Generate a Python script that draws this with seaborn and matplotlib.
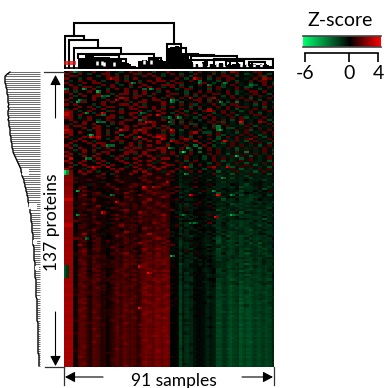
import matplotlib
matplotlib.use("Agg")
import matplotlib.pyplot as plt
from matplotlib.colors import LinearSegmentedColormap
from matplotlib.patches import Rectangle
import numpy as np
import pandas as pd
import seaborn as sns

# sample levels in the lower part of the heatmap
col_level = [2.8, 2.9, 2.8, 2.6, 0.3, 0.5, 1.6, 1.9, 1.8, 1.5,
             1.0, 0.7, 1.6, 1.7, 1.5, 1.2, 0.6, 0.9, 0.3, 0.4,
             0.8, 1.1, 1.5, 1.7, 1.2, 1.6, 1.9, 1.6, 1.2, 1.7,
             1.5, 1.1, 0.9, 1.5, 2.0, 2.3, 2.1, 2.0, 1.8, 2.2,
             2.4, 2.2, 1.9, 2.3, 2.4, 2.1, 0.1, 0.0, -0.1, -0.2,
             -1.9, -0.7, -1.2, -1.4, -1.0, -1.1, -0.4, -0.2, -0.1, -0.2,
             -0.3, -0.8, -1.0, -0.6, -0.7, -0.9, -1.9, -2.0, -1.6, -1.3,
             -1.5, -2.0, -2.2, -1.8, -1.7, -1.5, -2.3, -2.0, -1.8, -2.1,
             -2.2, -1.9, -1.6, -1.8, -2.0, -1.7, -1.5, -1.9, -1.8, -1.6, -1.0]

# strength of that pattern from the top row to the bottom row
row_gain = [.08, .1, .08, .12, .1, .08, .1, .12, .1, .08, .12, .1, .14, .1, .12, .14, .12, .1, .14, .12,
            .14, .16, .12, .14, .16, .18, .14, .16, .2, .18, .16, .2, .22, .18, .2, .24, .22, .2, .24, .26,
            .22, .26, .28, .24, .28, .3, .32, .28, .3, .34, .36, .32, .36, .4, .38, .36, .42, .4, .38, .44,
            .42, .46, .44, .42, .48, .46, .5, .48, .46, .52, .5, .54, .52, .5, .56, .54, .58, .56, .6, .58,
            .62, .6, .64, .62, .66, .68, .62, .7, .66, .74, .68, .72, .78, .68, .76, .72, .8, .74, .7, .8,
            .84, .74, .8, .86, .74, .8, .84, .88, .76, .82, .88, .9, .78, .84, .9, .8, .9, .86, .8, .92,
            .84, .88, .94, .82, .88, .92, .86, .82, .92, .86, .9, .84, .92, .82, .88, .92, .86]

# red strip of the first four samples, from the row where it becomes solid
strip_first_row = 46
strip_level = [1.9, 2.0, 2.1, 2.0, 2.2, 2.1, 2.0, 2.2, 2.3, 2.1, 2.2, 2.3, 2.4, 3.0,
               2.2, 2.3, 2.2, 2.4, 2.3, 2.2, 2.3, 2.4, 2.3, 2.2, 2.6, 2.9, 2.4, 2.3, 2.4, 2.3, 2.4, 2.3, 2.4, 2.5,
               2.3, 2.4, 2.5, 2.4, 2.5, 2.4, 2.5, 2.4, 2.5, 2.4, 2.5, 2.4, 2.5, 2.4, 2.5, 2.4, 2.5, 2.4, 2.5, 2.6,
               2.5, 2.4, 2.5, 2.6, 2.5, 2.4, 2.5, 2.6, 2.5, 2.6, 2.5, 2.6, 2.5, 2.4, 2.5, 2.6, 2.5, 2.6, 2.5, 2.6,
               2.5, 2.6, 2.5, 2.4, 2.5, 2.6, 2.5, 2.6, 2.5, 2.6, 2.5, 2.6, 2.5, 2.6, 2.5, 2.4, 2.5]

# cell marks of the upper rows, two samples per character:
# R strong red, r red, . nothing, k darker, g green, G strong green
texture_rows = [
    ".r.gk.r..r.kg.r.r..g.kr..k.g.r.kr.g.Rr.k.rr..k",
    "r..r.gk.rr.g.k.rg.r..g.r.g..rk..g.r.kr.gk.r.g.",
    ".rr.k..g.r.r.r..kr.r.g.k.r.g.k.r..rr.g..k.rg..",
    "rk.g.r.k.rRr.g.r.k..r.k.r.g..r.g.r.rr..k.r.Rr.",
    ".g.r..r.g.kr.r..g.r.rr.r.k.r.G.k.g.r.g..r.rr.k",
    "r.k.r.rr.k.g..r.rk.r..g.rr..k.r.g.r..rk.g..r.g",
    ".r.g..k.r.r.g.r..r.k.rrr.g.k.r..k.g.r.k.Gg.r.r",
    "k.r.rr.g.kr.k.g.r.r..g.r.r.g.k.r.rg..r.gg.k.r.",
    "g.r.k.r..g.r.r.k.G..r.k.g.rr.k.g.r.k.r.r..g.k.",
    "r.gk.r.g.r.k.r.r.rk.g.r.k.g..r.r.k.r.gk.rr.r.k",
    ".r.r.k.r.kg.rr.g.r.r.k.rr.g.r.k.rr.r.g.k.r..g.",
    "k.g.r.rr.G.r.k.rr.g.k.r.k.r.g.r.k.g.r.k.r.rk.r",
    ".r..k.r.g.k.Rr.r.k.r.g.r.r.k.r.rR.k.r.r.g.k.r.",
    "r.k.g.rk.r.g.r.k.r.rr.k.g.k.rr.g.r.k.r.rr.g.k.",
    ".g.rr.k.r.r.k.g.rr.k.r.r.g.k.r.r.k.g.G.k.r.r.g",
    "r.r.k.g.r.k.rr.r.g.k.r.k.r.rg.k.r.g.rr.k.g.r.k",
    ".k.r.r.g.rr.k.r.rr.r.g.r.k.g.r.k.r.r.rrr.k.g.r",
    "g.r.k.r.r.k.g.rr.k.r.r.k.r.r.g.R.k.r.g.k.r.r.k",
    "rr.g.r.k.gr.r.k.r.g.r.k.r.g.k.rRr.r.k.g.r.k.r.",
    "Rrk.r.g.r.k.r.rr.g.k.r.g.rk.r.k.g.r.r.k.r.g.k.",
    "Rr.r.k.rG.r.k.r.g.r.r.k.r.rk.g.r.k.r.g.k.rr.k.",
    "rr.g.r.k.rr.gk.r.r.k.gg.r.k.g.r.r.k.r.rg.k.r.k",
    ".r.k.r.g.r.k.rr.Gg.k.r.g.r.k.g.kr.r.g.r.k.r.g.",
    "k.r.r.k.G.r.r.k.r.Rr.k.r.g.r.k.r.rg.k.r.k.Rr.g",
    ".g.kr.r.k.g.r.k.rr.r.k.g.r.gg.k.r.r.k.g.r.k.r.",
    "r.rr.k.r.g.k.r.r.k.r.rg.k.r.r.k.gG.r.k.r.g.k.r",
    "r.k.r.rr.k.g.r.k.rr.g.r.k.r.k.g.rG.gg.k.r.r.k.",
    "Rr.k.g.r.r.k.r.rRr.k.r.r.g.k.r.k.G.k.r.rg.k.r.",
    "rr.r.k.r.g.r.k.r.r.k.g.r.k.rR.gg.r.k.g.r.k.r.r",
    ".r.k.g.r.r.kG.r.k.r.rr.g.k.r.k.r.rg.k.r.r.gk.r",
    "r.k.r.rR.k.r.r.g.k.rRr.k.r.g.r.k.g.r.r.k.r.g.k",
    ".g.r.k.r.g.r.k.r.r.k.r.g.rRr.k.r.g.k.r.rR.k.r.",
    "k.r.r.g.k.r.r.k.g.r.r.k.r.r.R.k.g.r.kr.g.r.k.r",
    ".r.k.r.rr.k.g.r.r.k.r.g.rr.k.r.r.kg.r.k.r.r.g.",
    "r.g.k.r.r.G.k.r.g.r.k.r.k.r.G.r.g.k.r.r.k.g.r.",
    ".r.r.k.g.r.k.r.rr.k.rr.g.r.k.G.r.k.r.g.k.r.r.k",
    "k.g.r.r.k.r.g.r.k.rr.r.k.r.g.k.r.r.k.g.r.k.r.g",
    "r.k.r.g.rr.k.rrr.r.k.r.r.g.r.G.k.r.k.r.G.k.r.r",
    ".r.g.k.r.r.k.r.g.r.k.g.r.k.r.k.r.r.g.k.r.r.k.g",
    "r.k.r.r.k.g.r.k.r.r.g.k.r.r.k.g.r.k.r.r.g.k.r.",
    ".R.k.G.r.k.r.g.r.k.r.rr.k.r.k.g.r.r.k.g.r.k.r.",
    "r.k.r.g.r.k.r.k.r.r.g.k.r.g.r.k.r.g.k.r.r.k.g.",
    ".r.r.k.r.g.k.r.r.k.g.r.k.r.r.k.g.r.k.r.g.k.r.r",
    "k.g.r.k.r.r.k.g.r.r.k.rr.k.g.r.k.r.g.k.r.g.k.r",
    ".r.k.r.r.R.k.g.r.k.r.r.k.r.g.k.rR.k.g.r.r.k.g.",
    "r.k.g.r.k.r.r.k.r.g.r.k.r.r.k.g.r.k.r.g.k.r.r.",
    ".k.r.r.g.k.r.k.r.r.k.g.r.k.r.r.k.g.k.r.k.g.r.k",
    "k.k.r.k.r.g.k.r.k.r.k.r.k.g.k.k.r.k.g.k.r.k.g.",
    ".k.g.k.r.k.r.k.k.r.k.k.r.k.k.g.k.g.k.k.g.k.k.r",
    "k.r.k.k.r.k.k.g.r.k.r.k.k.r.r.k.k.k.g.k.g.k.k.",
    ".k.k.r.k.k.r.k.k.r.k.k.r.k.k.k.g.k.k.k.r.k.g.k",
    "k.r.k.k.g.k.r.k.k.r.k.r.k.k.r.k.k.g.k.k.k.r.k.",
    ".k.k.g.k.r.k.k.r.k.k.r.k.k.r.k.r.k.k.k.g.k.k.g",
    "k.k.r.k.k.r.k.r.k.k.r.k.R.k.r.k.k.g.k.g.k.r.k.",
    ".k.r.k.k.k.r.k.k.r.k.k.r.k.k.k.g.k.k.r.k.k.g.k",
    "k.k.r.k.k.g.k.r.k.r.k.k.r.k.k.r.k.k.k.g.k.k.r.",
    ".r.k.k.r.k.k.r.k.k.r.k.r.k.k.k.k.g.k.k.r.k.k.k",
    "k.k.r.k.g.k.k.k.r.k.k.r.k.k.r.k.k.k.k.g.k.k.g.",
    ".k.r.k.k.r.k.r.k.k.k.r.k.k.r.k.k.k.r.k.k.k.k.k",
    "k.k.k.r.k.k.k.r.k.r.k.k.r.k.k.k.k.g.k.k.k.r.k.",
    ".r.k.k.k.r.k.k.k.R.k.k.k.r.k.r.k.k.k.k.g.k.k.g",
    "k.k.r.k.k.k.r.k.k.k.r.k.k.k.r.k.k.k.g.k.k.k.k.",
    ".k.k.k.r.k.k.k.r.k.k.r.k.k.k.k.r.k.k.k.k.g.k.k",
    "k.r.k.k.k.r.k.k.k.r.k.k.k.r.k.k.k.k.k.k.k.k.g.",
    ".k.k.r.k.k.k.r.k.k.k.k.r.k.k.k.k.g.k.k.k.k.k.k",
    "k.k.k.k.r.k.k.k.R.k.k.k.k.r.k.k.k.k.k.g.k.k.k.",
    ".r.k.k.k.k.r.k.k.k.k.r.k.k.k.k.r.k.k.k.k.k.g.k",
    "k.k.k.r.k.k.k.k.r.k.k.k.r.k.k.k.k.k.k.k.k.k.k.",
    ".k.k.k.k.k.r.k.k.k.k.r.k.k.k.k.k.g.k.k.k.k.g.k",
    "k.r.k.k.k.k.k.k.r.k.k.k.k.r.k.k.k.k.k.k.k.k.k.",
    ".k.k.k.r.k.k.k.k.k.r.k.k.k.k.k.r.k.k.k.k.k.k.k",
    "k.k.k.k.k.k.r.k.k.k.k.k.r.k.k.k.k.k.g.k.k.k.k.",
    ".r.k.k.k.k.k.k.k.r.k.k.k.k.k.r.k.k.k.k.k.k.k.k",
    "k.k.k.r.k.k.k.k.k.k.k.r.k.k.k.k.k.k.k.k.g.k.k.",
    ".k.k.k.k.k.k.r.k.k.k.k.k.k.r.k.k.k.k.k.k.k.k.k",
    "k.k.r.k.k.k.k.k.k.r.k.k.k.k.k.k.k.k.k.k.k.k.k.",
    ".k.k.k.k.k.r.k.k.k.k.k.k.r.k.k.k.k.g.k.k.k.k.k",
    "k.r.k.k.k.k.k.k.k.k.r.k.k.k.k.k.k.k.k.k.k.k.k.",
    ".k.k.k.k.r.k.k.k.k.k.k.k.k.r.k.k.k.k.k.k.k.k.k",
    "k.k.k.k.k.k.k.k.r.k.k.k.k.k.k.k.k.k.k.k.k.g.k.",
    ".k.r.k.k.k.k.k.k.k.k.k.r.k.k.k.k.k.k.k.k.k.k.k",
    "k.k.k.k.k.r.k.k.k.k.k.k.k.k.k.k.k.k.k.k.k.k.k.",
    ".k.k.k.k.k.k.k.k.r.k.k.k.k.k.k.k.k.k.k.k.k.k.k",
    "k.k.r.k.k.k.k.k.k.k.k.k.k.r.k.k.k.k.k.k.k.k.k.",
    ".k.k.k.k.k.k.r.k.k.k.k.k.k.k.k.k.k.k.k.k.k.k.k",
]

# single bright cells
spot_row = [8, 0, 8, 9, 14, 13, 11, 5, 8, 14, 23, 29, 19, 23, 19, 34, 40,
            30, 19, 27, 30, 31, 20, 13, 3, 23, 44,
            5, 13, 14, 21, 21, 27, 37, 39, 35, 6, 5, 35,
            27, 23, 44, 32, 32, 3, 12,
            46, 47, 55, 66, 57, 77, 44, 53, 60, 65, 53, 51,
            44, 57, 57, 67, 47, 49, 55, 57, 66, 70, 70, 66,
            93, 109, 90, 85, 90, 91, 92, 93, 94, 95]
spot_col = [0, 4, 8, 14, 5, 6, 16, 29, 37, 46, 45, 11, 9, 14, 33, 18, 9,
            11, 16, 24, 32, 42, 40, 22, 20, 35, 12,
            58, 46, 67, 49, 45, 67, 51, 74, 45, 62, 69, 53,
            46, 76, 52, 69, 46, 56, 54,
            0, 0, 5, 5, 20, 9, 12, 34, 22, 16, 38, 44,
            70, 54, 66, 65, 52, 68, 64, 72, 72, 54, 56, 51,
            36, 32, 32, 46, 0, 0, 0, 0, 0, 0]
spot_val = [-3.5, -3.0, -3.5, -4.0, -4.0, -3.5, -3.0, -3.5, -3.5, -3.5, -3.0, -4.0, -3.5, -3.0, -3.0, -3.0, -3.0,
            4.0, 3.8, 4.0, 4.0, 3.5, 3.5, 3.2, 3.0, 3.5, 3.0,
            -3.0, -4.0, -3.5, -3.5, -3.0, -4.0, -5.5, -4.5, -3.5, -3.0, -3.0, -3.0,
            4.0, 4.0, 4.0, 3.5, 3.5, 3.2, 3.0,
            -5.5, -5.0, -4.0, -3.5, -3.0, -2.5, 3.5, 3.5, 3.5, 3.5, 3.0, 3.0,
            3.5, 4.0, 4.0, 3.5, -3.5, -3.5, -3.5, -3.5, -4.0, -2.5, -2.5, -3.0,
            4.0, 4.0, 3.5, -4.0, -2.0, -2.0, -2.0, -2.0, -2.0, -2.0]

# level of the branch joining each protein on the left tree (pixels from the edge)
row_merge = [10, 7, 5, 5, 5, 5, 6, 6, 7, 7, 7, 8, 8, 8, 8, 9, 8, 9, 8, 8,
             8, 9, 8, 9, 9, 9, 10, 10, 10, 10, 11, 11, 11, 12, 12, 12, 13, 13, 14, 15,
             16, 17, 18, 19, 20, 21, 21, 22, 22, 23, 24, 24, 25, 25, 26, 26, 27, 27, 28, 28,
             28, 29, 29, 30, 30, 30, 31, 31, 31, 31, 32, 32, 32, 32, 32, 33, 33, 33, 33, 33,
             33, 34, 34, 34, 34, 34, 34, 34, 35, 35, 35, 35, 35, 35, 35, 35, 36, 36, 36, 36,
             36, 36, 36, 36, 36, 37, 37, 37, 37, 37, 37, 37, 37, 37, 37, 37, 38, 38, 38, 38,
             38, 38, 38, 38, 38, 38, 38, 38, 38, 38, 38, 39, 39, 39, 39, 39, 39]
gap_row = [45, 46, 47, 61, 62, 63, 78, 79, 90, 91, 104]
gap_start = [22, 22, 22, 29, 29, 29, 33, 33, 35, 35, 37]
gap_end = [29, 29, 29, 37, 37, 37, 37, 37, 39, 39, 40]

# top tree: branch ends in column units, height and lower ends in pixels above the base
link_left = [4.3, 0.4, 2.2, 4.3, 6.0, 44.6, 47.0, 50.0, 51.0, 55.0, 65.0, 75.0,
             10.0, 20.0, 37.0, 62.0, 70.0, 80.0, 54.0]
link_right = [47.6, 8.7, 14.7, 24.7, 39.0, 50.6, 53.0, 58.0, 65.0, 75.0, 90.5, 90.5,
              24.0, 27.0, 42.0, 72.0, 78.0, 87.0, 61.0]
link_top = [46, 33, 29, 21, 15, 25, 21, 15, 14, 13, 10, 10,
            14, 10, 11, 9, 8, 7, 9]
link_low_left = [33, 0, 0, 0, 11, 0, 0, 0, 0, 0, 0, 0,
                 8, 8, 8, 4, 4, 4, 4]
link_low_right = [25, 29, 21, 15, 11, 21, 15, 14, 13, 10, 0, 0,
                  9, 6, 8, 4, 4, 4, 4]
leaf_height = [0, 0, 0, 0, 0, 0, 11, 11, 11, 14, 14, 14, 14, 12, 12, 12, 12, 12, 12, 12,
               11, 11, 11, 11, 11, 7, 7, 6, 5, 3, 3, 2, 8, 8, 9, 9, 8, 10, 10, 10,
               10, 9, 9, 8, 20, 21, 22, 22, 23, 23, 22, 16, 16, 15, 7, 7, 5, 5, 4, 5,
               7, 7, 5, 5, 5, 4, 5, 6, 6, 5, 4, 5, 4, 5, 5, 6, 5, 4, 4, 5,
               5, 6, 5, 4, 4, 5, 4, 5, 4, 3, 2]
hole_left = [14, 17, 34, 56, 59, 66, 76, 82]
hole_right = [16, 21, 37, 58, 62, 69, 79, 85]
hole_low = [4, 3, 5, 2, 2, 2, 2, 2]
hole_high = [8, 7, 9, 8, 6, 7, 6, 5]

scale_ticks = [-6, 0, 4]
n_rows = 137
n_cols = 91
texture_codes = {"R": 2.6, "r": 1.5, ".": 0.0, "k": -0.35, "g": -1.3, "G": -2.4}

plt.rcParams['font.family'] = ['Lato', 'DejaVu Sans']

# build the table
matrix = np.outer(row_gain, col_level) * 0.88
for r, line in enumerate(texture_rows):
    weight = 1.0 if r < 48 else 0.6
    for i, ch in enumerate(line):
        matrix[r, 2 * i:2 * i + 2] += texture_codes[ch] * weight
        # the lowest rows carry only a faint trace of the same marks
        if r + 52 < n_rows:
            matrix[r + 52, 2 * i:2 * i + 2] += texture_codes[ch] * 0.25
matrix[strip_first_row:, :4] = np.array(strip_level)[:, None]
for r, c, v in zip(spot_row, spot_col, spot_val):
    matrix[r, c] = v
    if c + 1 < n_cols:
        matrix[r, c + 1] = 0.6 * v
df = pd.DataFrame(matrix)

cmap = LinearSegmentedColormap.from_list(
    "zscore", [(0, "#00ff6e"), (0.6, "#000000"), (1, "#ff0000")])

fig = plt.figure(figsize=(3.88, 3.88), dpi=100)


def px_axes(x0, y0, x1, y1):
    # axes from pixel corners, y counted from the top of the picture
    return fig.add_axes([x0 / 388, 1 - y1 / 388, (x1 - x0) / 388, (y1 - y0) / 388])


ax = px_axes(64, 71, 274, 367)
cbar_ax = px_axes(303, 36, 381, 47)
sns.heatmap(df, ax=ax, cmap=cmap, vmin=-6, vmax=4, cbar_ax=cbar_ax,
            cbar_kws={"orientation": "horizontal"}, xticklabels=False, yticklabels=False)
cbar_ax.set_xticks([])
for s in ["top", "bottom"]:
    cbar_ax.spines[s].set_visible(True)
    cbar_ax.spines[s].set_color("#444444")
    cbar_ax.spines[s].set_linewidth(1.2)

# scale ticks under the colour bar
scale_ax = px_axes(305, 53, 378, 53.01)
scale_ax.set_xlim(-6, 4)
scale_ax.set_yticks([])
scale_ax.set_xticks(scale_ticks)
scale_ax.set_xticklabels([str(t) for t in scale_ticks], fontsize=14)
scale_ax.tick_params(axis="x", length=6.5, width=1.2, pad=2)
for s in ["top", "left", "right"]:
    scale_ax.spines[s].set_visible(False)
scale_ax.spines["bottom"].set_linewidth(1.2)

# left tree
row_ax = px_axes(0, 71, 42, 367)
row_ax.set_xlim(0, 42)
row_ax.set_ylim(n_rows, 0)
row_ax.axis("off")
row_pos = np.arange(n_rows) + 0.5
row_ax.hlines(row_pos, row_merge, 40, color="#555555", lw=0.6)
row_ax.plot(row_merge, row_pos, color="black", lw=1.0)
row_ax.hlines(np.array(gap_row) + 0.5, gap_start, gap_end, color="white", lw=1.4)

# top tree
top_ax = px_axes(64, 20, 274, 68.5)
top_ax.set_xlim(0, n_cols)
top_ax.set_ylim(0, 48.5)
top_ax.axis("off")
top_ax.bar(np.arange(n_cols) + 0.5, leaf_height, width=1.0, color="black")
top_ax.vlines(np.array(hole_left) + 0.5, hole_low, hole_high, color="white", lw=1.8)
top_ax.vlines(np.array(hole_right) + 0.5, hole_low, hole_high, color="white", lw=1.8)
for a, b, h, la, lb in zip(link_left, link_right, link_top, link_low_left, link_low_right):
    top_ax.plot([a, a, b, b], [la, h, h, lb], color="black", lw=1.5, solid_joinstyle="miter")
top_ax.hlines(0.4, 0, n_cols, color="black", lw=1.2)
top_ax.add_patch(Rectangle((0.5, 5), 4.3, 2, fill=False, edgecolor="#e01010", lw=1.1, zorder=5))

# annotations in picture pixels
note = fig.add_axes([0, 0, 1, 1], facecolor="none")
note.set_xlim(0, 388)
note.set_ylim(388, 0)
note.axis("off")
line_col = "#333333"
note.plot([44, 64], [71.5, 71.5], color=line_col, lw=0.9)
note.plot([45, 64], [367, 367], color=line_col, lw=0.9)
note.plot([64, 64], [367, 385], color=line_col, lw=0.9)
note.plot([274, 274], [367, 385], color=line_col, lw=0.9)
arrow = dict(arrowstyle="-|>,head_width=0.32,head_length=0.6", color="black", lw=0.8, shrinkA=0, shrinkB=0)
note.annotate("", xy=(55.5, 75), xytext=(55.5, 118), arrowprops=arrow)
note.annotate("", xy=(55.5, 366), xytext=(55.5, 312), arrowprops=arrow)
note.annotate("", xy=(65, 377), xytext=(103, 377), arrowprops=arrow)
note.annotate("", xy=(273, 377), xytext=(242, 377), arrowprops=arrow)
note.text(52, 222, "137 proteins", rotation=90, ha="center", va="center", fontsize=12.5)
note.text(174, 381, "91 samples", ha="center", va="center", fontsize=12.5)
note.text(340, 21, "Z-score", ha="center", va="center", fontsize=14)

fig.savefig("out.png", dpi=100)
